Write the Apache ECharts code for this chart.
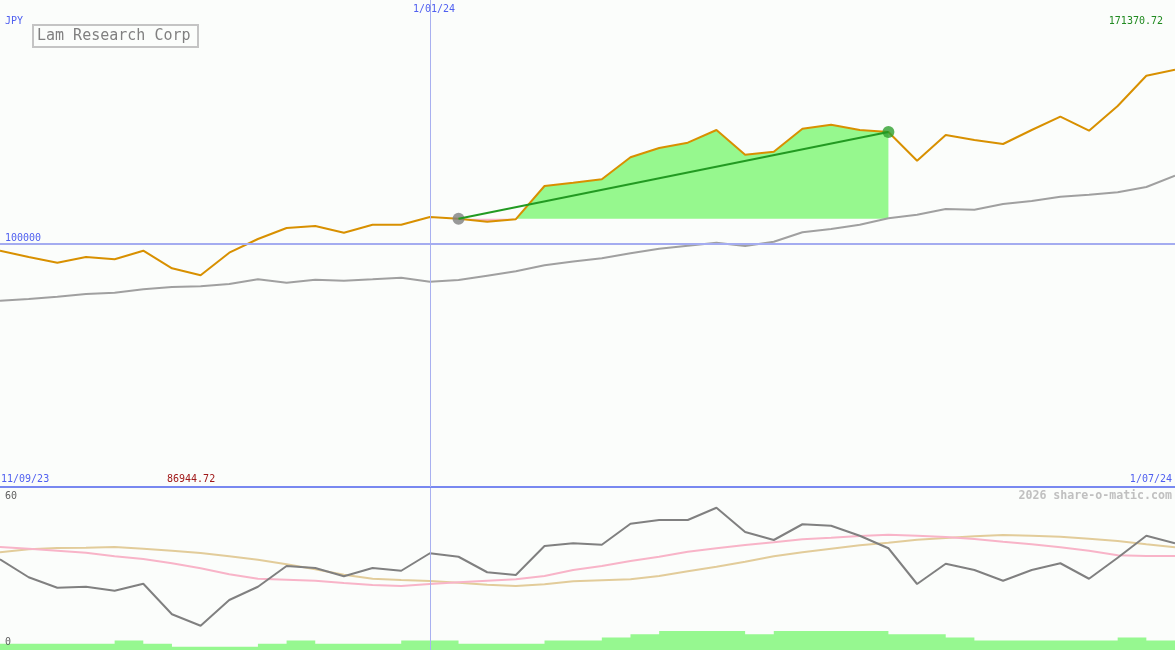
<!DOCTYPE html>
<html>
<head>
<meta charset="utf-8">
<script src="https://cdn.jsdelivr.net/npm/echarts/dist/echarts.min.js"></script>
<style>
html,body{margin:0;padding:0;background:#fbfdfb;}
#chart{width:1175px;height:650px;}
</style>
</head>
<body>
<div id="chart"></div>
<script>
// Weekly closes (JPY), Lam Research Corp
const weeks = ["11/09/23","18/09/23","25/09/23","2/10/23","9/10/23","16/10/23","23/10/23","30/10/23","6/11/23","13/11/23","20/11/23","27/11/23","4/12/23","11/12/23","18/12/23","25/12/23","1/01/24","8/01/24","15/01/24","22/01/24","29/01/24","5/02/24","12/02/24","19/02/24","26/02/24","4/03/24","11/03/24","18/03/24","25/03/24","1/04/24","8/04/24","15/04/24","22/04/24","29/04/24","6/05/24","13/05/24","20/05/24","27/05/24","3/06/24","10/06/24","17/06/24","24/06/24"];
const price = [97040, 94460, 92120, 94460, 93510, 97040, 89820, 86944.72, 96220, 101850, 106370, 107190, 104440, 107720, 107720, 110880, 110200, 108950, 110000, 123620, 124970, 126370, 135400, 139220, 141400, 146610, 136470, 137700, 147150, 148790, 146610, 145790, 134000, 144560, 142510, 140860, 146610, 152080, 146330, 156470, 168910, 171370.72];
const movingAvg = [76510, 77210, 78150, 79260, 79800, 81190, 82140, 82420, 83370, 85300, 83900, 85130, 84720, 85300, 85960, 84310, 85010, 86780, 88580, 91050, 92610, 93920, 95980, 97870, 99100, 100330, 98970, 100740, 104600, 105960, 107720, 110350, 111830, 114170, 113880, 116220, 117450, 119220, 120040, 121030, 123200, 127850];
const oscMain = [32.3, 25.1, 20.9, 21.3, 19.7, 22.5, 10.3, 5.7, 16.0, 21.3, 29.6, 28.8, 25.5, 28.8, 27.7, 34.7, 33.3, 27.1, 26.0, 37.6, 38.7, 38.1, 46.5, 48.0, 48.0, 52.9, 43.2, 40.0, 46.3, 45.7, 41.7, 36.7, 22.4, 30.5, 28.0, 23.7, 28.0, 30.7, 24.5, 32.9, 41.7, 38.7];
const oscPink = [37.2, 36.5, 35.7, 34.9, 33.5, 32.4, 30.7, 28.7, 26.3, 24.5, 24.1, 23.7, 22.8, 22.0, 21.6, 22.4, 23.1, 23.7, 24.3, 25.6, 28.0, 29.6, 31.6, 33.3, 35.3, 36.7, 38.0, 39.1, 40.3, 40.9, 41.6, 42.1, 41.7, 41.2, 40.4, 39.3, 38.3, 37.1, 35.7, 33.9, 33.6, 33.6];
const oscTan = [35.1, 36.3, 36.8, 36.9, 37.2, 36.5, 35.7, 34.8, 33.5, 32.1, 30.3, 28.3, 26.1, 24.5, 24.0, 23.6, 22.9, 22.1, 21.6, 22.3, 23.5, 23.9, 24.3, 25.6, 27.5, 29.3, 31.3, 33.5, 35.1, 36.5, 37.9, 38.9, 40.1, 40.8, 41.5, 42.0, 41.7, 41.3, 40.5, 39.6, 38.3, 37.1];
const volume = [2,2,2,2,3,2,1,1,1,2,3,2,2,2,3,3,2,2,2,3,3,4,5,6,6,6,5,6,6,6,6,5,5,4,3,3,3,3,3,4,3,3];
const trendStart = 16, trendEnd = 31, markerWeek = 15;
const refLevel = 100000;
const labels = {ccy:"JPY", title:"Lam Research Corp", maxP:"171370.72", minP:"86944.72", ref:"100000", first:"11/09/23", last:"1/07/24", mid:"1/01/24", oscTop:"60", oscBottom:"0", credit:"2026 share-o-matic.com"};

const pair = arr => arr.map((v,i)=>[i,v]);
const base = price[trendStart];
const MONO = '"DejaVu Sans Mono", "Liberation Mono", monospace';

function fillRender(params, api){
  if (params.dataIndex !== 0) return null;
  const pts = [];
  for (let i = trendStart; i <= trendEnd; i++){
    pts.push([i, price[i]]);
    if (i < trendEnd){
      const a = price[i]-base, b = price[i+1]-base;
      if (a*b < 0){ const t = a/(a-b); pts.push([i+t, base]); }
    }
  }
  const up = pts.map(p=>api.coord([p[0], Math.max(p[1], base)]));
  const dn = pts.map(p=>api.coord([p[0], Math.min(p[1], base)]));
  const b1 = api.coord([trendEnd, base]), b0 = api.coord([trendStart, base]);
  return {type:'group', children:[
    {type:'polygon', shape:{points: up.concat([b1,b0])}, style:{fill:'#96f88e'}},
    {type:'polygon', shape:{points: dn.concat([b1,b0])}, style:{fill:'#f8b4c4'}}
  ]};
}

function txt(text, x, y, color, size, align, weight){
  return {type:'text', x:x, y:y, z:100, style:{text:text, fill:color, font:(weight||'normal')+' '+size+'px '+MONO, textAlign:align||'left', align:align||'left', textVerticalAlign:'middle', verticalAlign:'middle'}};
}

const chart = echarts.init(document.getElementById('chart'), null, {renderer:'canvas'});
chart.setOption({
  backgroundColor:'#fbfdfb',
  animation:false,
  grid:[{left:0,right:0,top:0,height:487},{left:0,right:0,top:488,height:162}],
  xAxis:[
    {type:'value', gridIndex:0, min:0, max:weeks.length-1, axisLine:{show:true, onZero:false, lineStyle:{color:'#7888f0', width:2}}, axisTick:{show:false}, axisLabel:{show:false}, splitLine:{show:false}},
    {type:'value', gridIndex:1, min:0, max:weeks.length-1, show:false}
  ],
  yAxis:[
    {type:'value', gridIndex:0, min:0, max:200000, show:false},
    {type:'value', gridIndex:1, min:-4, max:60.8, show:false},
    {type:'value', gridIndex:1, min:0, max:51.43, show:false}
  ],
  series:[
    {type:'custom', xAxisIndex:0, yAxisIndex:0, renderItem:fillRender, data:[[trendStart, base]], z:1, silent:true},
    {type:'line', xAxisIndex:0, yAxisIndex:0, data:pair(movingAvg), symbol:'none', lineStyle:{color:'#a0a0a0', width:2}, z:2, silent:true,
      markLine:{silent:true, symbol:'none', label:{show:false}, data:[
        {xAxis:markerWeek, lineStyle:{color:'#a8b0f0', width:1, type:'solid'}},
        {yAxis:refLevel, lineStyle:{color:'#a4acf0', width:2, type:'solid'}}
      ]}},
    {type:'line', xAxisIndex:0, yAxisIndex:0, data:pair(price), symbol:'none', lineStyle:{color:'#d89000', width:2}, z:3, silent:true},
    {type:'scatter', xAxisIndex:0, yAxisIndex:0, data:[[trendStart, price[trendStart]]], symbolSize:12, itemStyle:{color:'#808080'}, z:4, silent:true},
    {type:'scatter', xAxisIndex:0, yAxisIndex:0, data:[[trendEnd, price[trendEnd]]], symbolSize:12, itemStyle:{color:'#30a030'}, z:4, silent:true},
    {type:'line', xAxisIndex:0, yAxisIndex:0, data:[[trendStart, price[trendStart]],[trendEnd, price[trendEnd]]], symbol:'none', lineStyle:{color:'#229a22', width:2}, z:5, silent:true},
    {type:'line', xAxisIndex:1, yAxisIndex:2, data:pair(volume), step:'end', symbol:'none', lineStyle:{width:0}, areaStyle:{color:'#96f890', opacity:1}, z:1, silent:true},
    {type:'line', xAxisIndex:1, yAxisIndex:1, data:pair(oscTan), symbol:'none', lineStyle:{color:'#e2cc9a', width:2}, z:2, silent:true,
      markLine:{silent:true, symbol:'none', label:{show:false}, data:[{xAxis:markerWeek, lineStyle:{color:'#a8b0f0', width:1, type:'solid'}}]}},
    {type:'line', xAxisIndex:1, yAxisIndex:1, data:pair(oscPink), symbol:'none', lineStyle:{color:'#f8b4c8', width:2}, z:3, silent:true},
    {type:'line', xAxisIndex:1, yAxisIndex:1, data:pair(oscMain), symbol:'none', lineStyle:{color:'#808080', width:2}, z:4, silent:true}
  ],
  graphic:[
    {type:'rect', x:33, y:25, z:100, shape:{width:165, height:22}, style:{fill:'#fbfdfb', stroke:'#c4c4c4', lineWidth:2}},
    txt(labels.title, 37, 36.5, '#808080', 15, 'left'),
    txt(labels.ccy, 5, 21, '#5060f0', 10, 'left'),
    txt(labels.mid, 434, 9, '#5060f0', 10, 'center'),
    txt(labels.maxP, 1163, 21, '#208a20', 10, 'right'),
    txt(labels.ref, 5, 238, '#5060f0', 10, 'left'),
    txt(labels.first, 1, 479, '#5060f0', 10, 'left'),
    txt(labels.minP, 167, 479, '#a01818', 10, 'left'),
    txt(labels.last, 1172, 479, '#5060f0', 10, 'right'),
    txt(labels.oscTop, 5, 496, '#606060', 10, 'left'),
    txt(labels.oscBottom, 5, 642, '#606060', 10, 'left'),
    txt(labels.credit, 1172, 496, '#c0c0c0', 11.6, 'right', 'bold')
  ]
});
</script>
</body>
</html>
